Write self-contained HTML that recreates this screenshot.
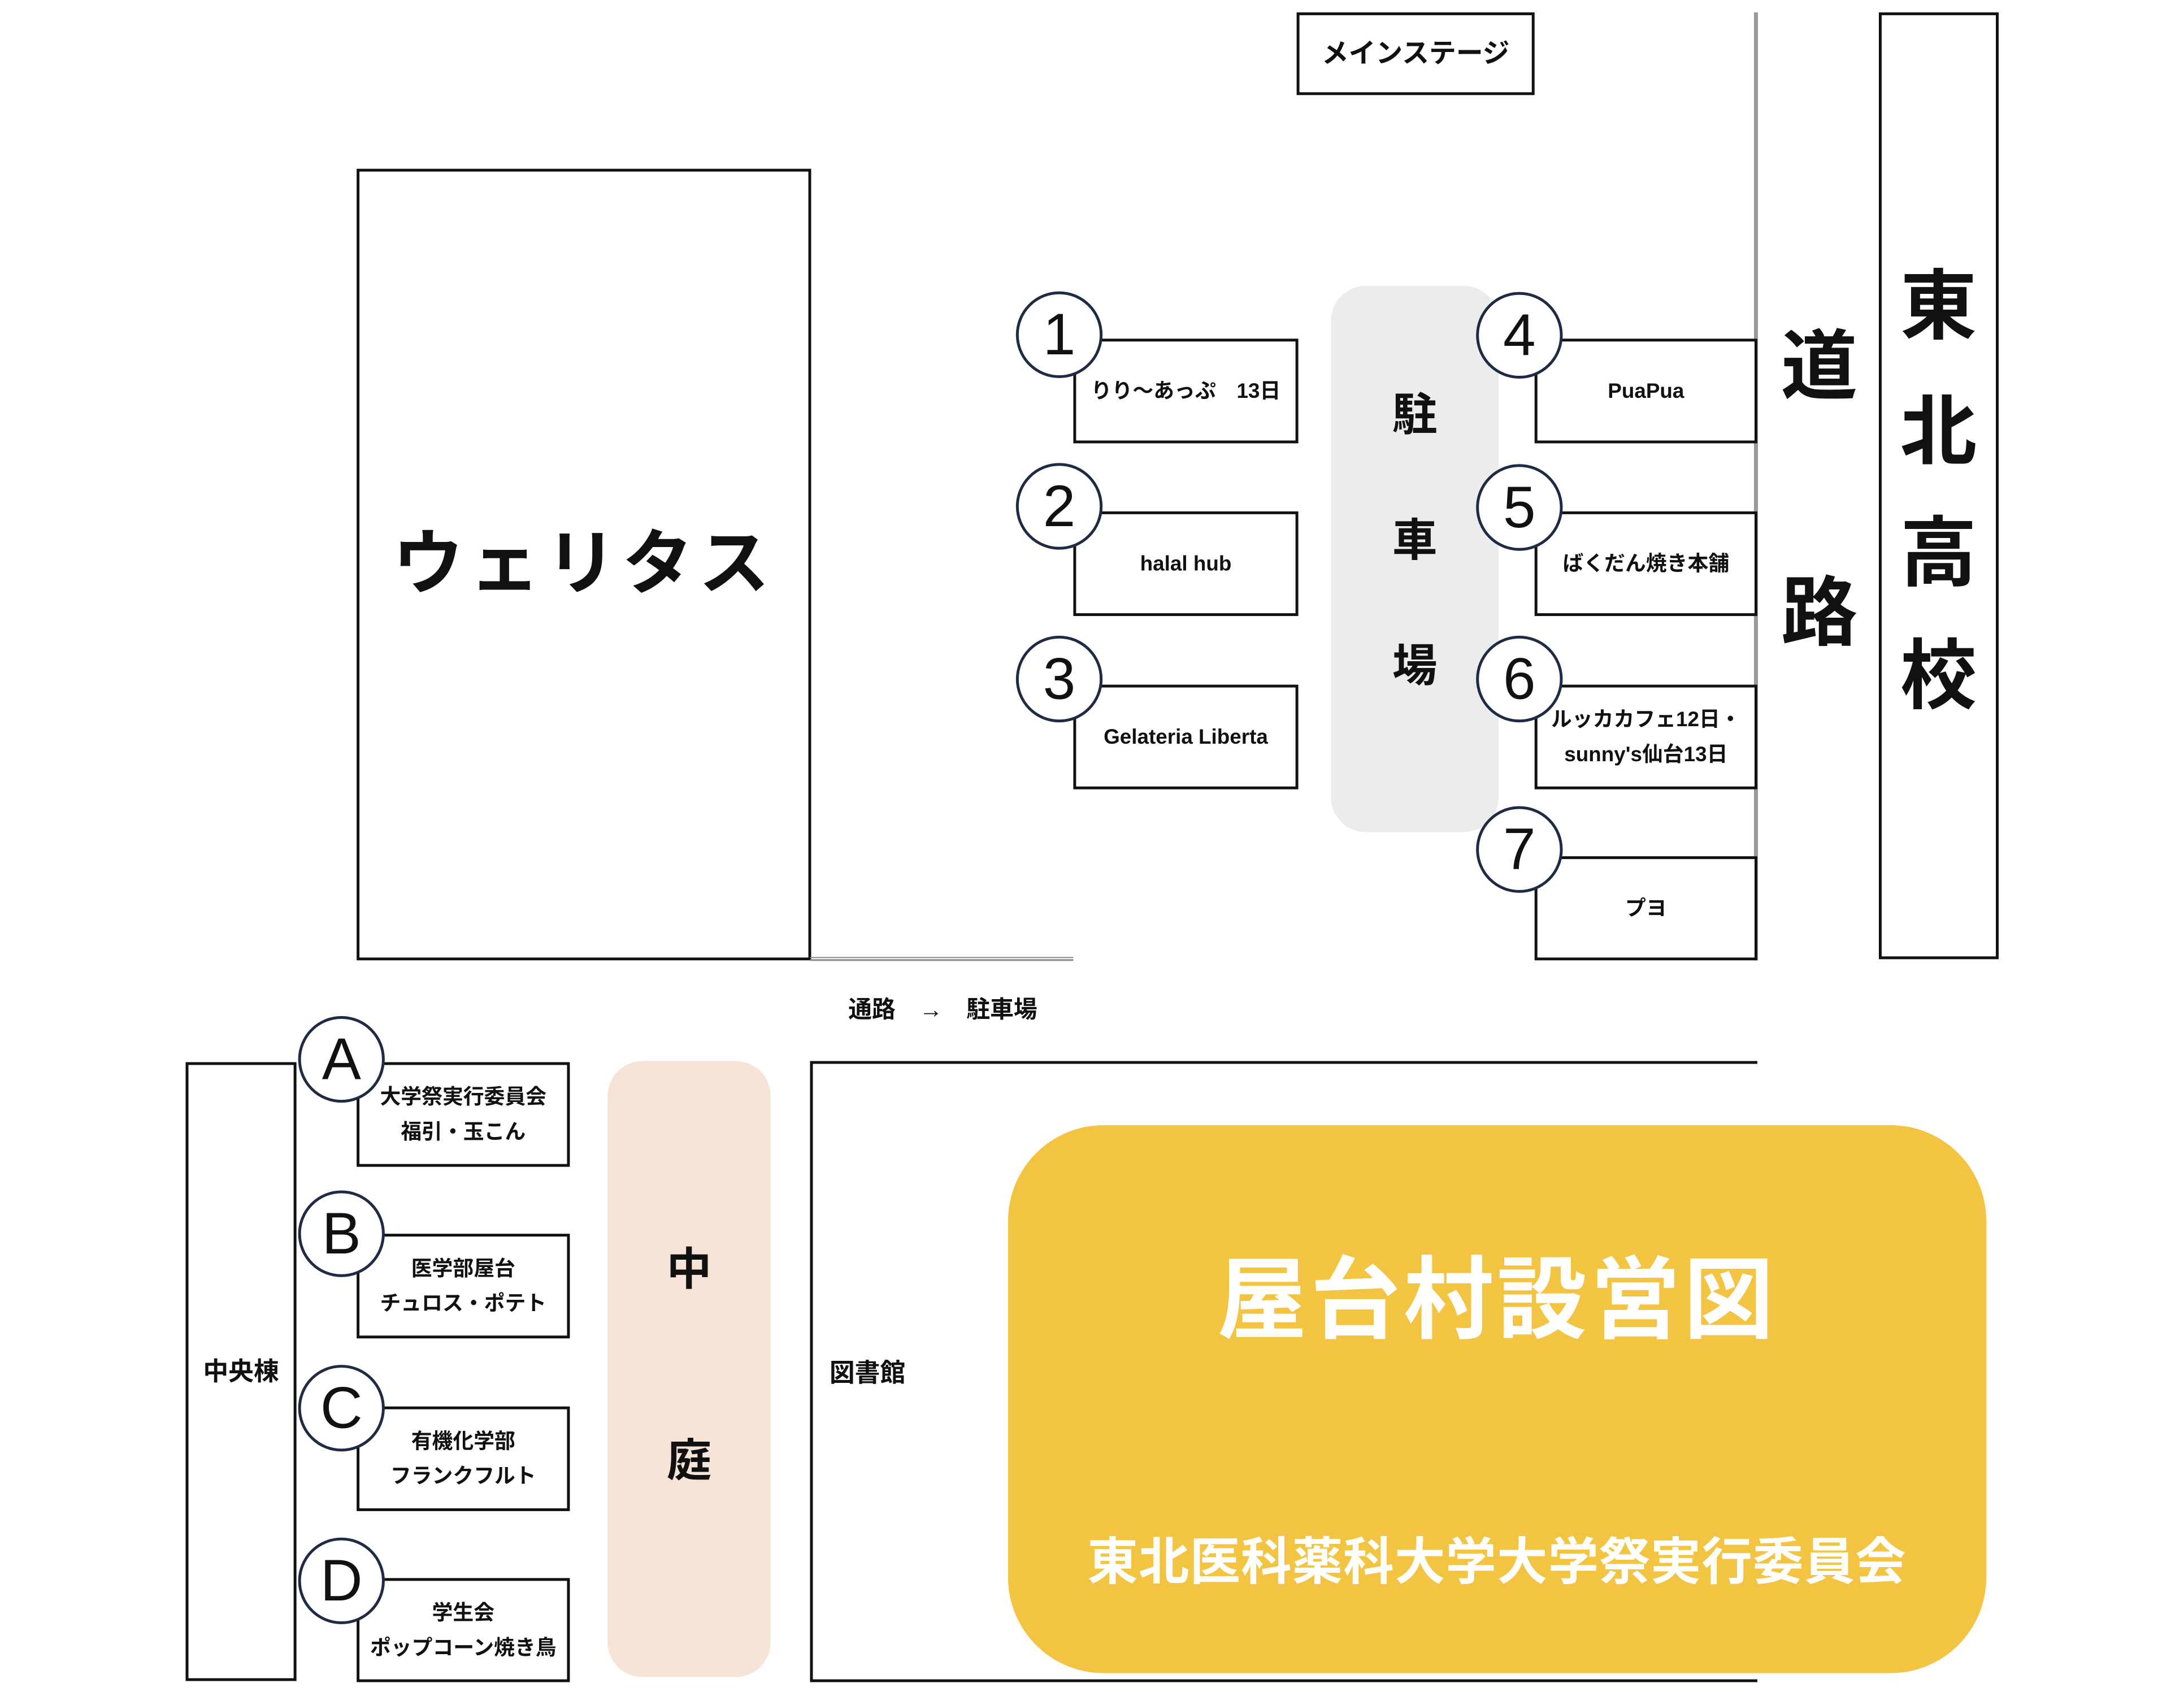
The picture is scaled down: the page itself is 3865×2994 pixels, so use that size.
<!DOCTYPE html>
<html><head><meta charset="utf-8"><style>
body{margin:0;width:3865px;height:2994px;background:#fff;position:relative;overflow:hidden;font-family:"Liberation Sans","Noto Sans CJK JP",sans-serif;}
#w{position:absolute;left:0;top:0;width:3865px;height:2994px;transform:scale(0.9955);transform-origin:0 0;}
.a{position:absolute;box-sizing:border-box;}
.bx{position:absolute;box-sizing:border-box;border:5px solid #111;background:#fff;display:flex;align-items:center;justify-content:center;text-align:center;font-size:37px;font-weight:bold;line-height:62px;color:#111;}
.c{position:absolute;width:154px;height:154px;margin:-77px 0 0 -77px;border:5px solid #1f2a44;border-radius:50%;background:#fff;box-sizing:border-box;display:flex;align-items:center;justify-content:center;font-size:104px;color:#111;}
.t{position:absolute;transform:translate(-50%,-50%);white-space:nowrap;font-weight:bold;color:#111;}
</style></head><body><div id="w">
<div class="bx" style="left:2305px;top:22px;width:423px;height:147px;font-size:48px;">メインステージ</div>
<div class="a" style="left:3118px;top:22px;width:7px;height:1685px;background:#999;"></div>
<div class="bx" style="left:3340px;top:22px;width:213px;height:1683px;"></div>
<div class="t" style="left:3446px;top:533px;font-size:136px;">東</div>
<div class="t" style="left:3446px;top:756px;font-size:136px;">北</div>
<div class="t" style="left:3446px;top:972px;font-size:136px;">高</div>
<div class="t" style="left:3446px;top:1190px;font-size:136px;">校</div>
<div class="t" style="left:3234px;top:640px;font-size:136px;">道</div>
<div class="t" style="left:3234px;top:1078px;font-size:136px;">路</div>
<div class="bx" style="left:634px;top:300px;width:808px;height:1407px;"></div>
<div class="t" style="left:1038px;top:991px;font-size:126px;letter-spacing:10px;">ウェリタス</div>
<div class="a" style="left:1440px;top:1701px;width:468px;height:7px;border-top:2px solid #888;border-bottom:3px solid #888;"></div>
<div class="a" style="left:2366px;top:508px;width:298px;height:971px;background:#ececec;border-radius:62px;"></div>
<div class="t" style="left:2515px;top:731px;font-size:80px;">駐</div>
<div class="t" style="left:2515px;top:954px;font-size:80px;">車</div>
<div class="t" style="left:2515px;top:1177px;font-size:80px;">場</div>
<div class="bx" style="left:1908px;top:602px;width:400px;height:186px;">りり～あっぷ　13日</div>
<div class="bx" style="left:1908px;top:909px;width:400px;height:186px;">halal hub</div>
<div class="bx" style="left:1908px;top:1217px;width:400px;height:186px;">Gelateria Liberta</div>
<div class="c" style="left:1883px;top:595px;">1</div>
<div class="c" style="left:1883px;top:900px;">2</div>
<div class="c" style="left:1883px;top:1207px;">3</div>
<div class="bx" style="left:2728px;top:602px;width:396px;height:186px;">PuaPua</div>
<div class="bx" style="left:2728px;top:909px;width:396px;height:186px;">ばくだん焼き本舗</div>
<div class="bx" style="left:2728px;top:1217px;width:396px;height:186px;">ルッカカフェ12日・<br>sunny's仙台13日</div>
<div class="bx" style="left:2728px;top:1522px;width:396px;height:185px;">プヨ</div>
<div class="c" style="left:2701px;top:596px;">4</div>
<div class="c" style="left:2701px;top:902px;">5</div>
<div class="c" style="left:2701px;top:1207px;">6</div>
<div class="c" style="left:2701px;top:1510px;">7</div>
<div class="t" style="left:1676px;top:1791px;font-size:42px;">通路　→　駐車場</div>
<div class="bx" style="left:330px;top:1888px;width:197px;height:1100px;font-size:45px;">中央棟</div>
<div class="bx" style="left:634px;top:1888px;width:379px;height:186px;">大学祭実行委員会<br>福引・玉こん</div>
<div class="bx" style="left:634px;top:2193px;width:379px;height:186px;">医学部屋台<br>チュロス・ポテト</div>
<div class="bx" style="left:634px;top:2500px;width:379px;height:186px;">有機化学部<br>フランクフルト</div>
<div class="bx" style="left:634px;top:2805px;width:379px;height:185px;">学生会<br>ポップコーン焼き鳥</div>
<div class="c" style="left:607px;top:1883px;">A</div>
<div class="c" style="left:607px;top:2193px;">B</div>
<div class="c" style="left:607px;top:2503px;">C</div>
<div class="c" style="left:607px;top:2810px;">D</div>
<div class="a" style="left:1080px;top:1886px;width:290px;height:1095px;background:#f6e4d8;border-radius:62px;"></div>
<div class="t" style="left:1225px;top:2250px;font-size:80px;">中</div>
<div class="t" style="left:1225px;top:2590px;font-size:80px;">庭</div>
<div class="a" style="left:1440px;top:1886px;width:1684px;height:1104px;border:5px solid #111;border-right:none;"></div>
<div class="t" style="left:1542px;top:2436px;font-size:45px;">図書館</div>
<div class="a" style="left:1792px;top:2000px;width:1739px;height:974px;background:#f3c342;border-radius:170px;"></div>
<div class="t" style="left:2661px;top:2297px;font-size:160px;color:#fff;letter-spacing:6px;">屋台村設営図</div>
<div class="t" style="left:2661px;top:2768px;font-size:90px;color:#fff;letter-spacing:1px;">東北医科薬科大学大学祭実行委員会</div>
</div></body></html>
